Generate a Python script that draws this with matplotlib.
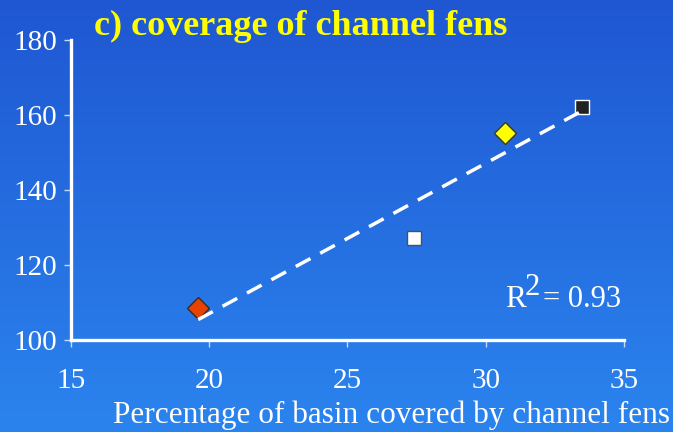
import numpy as np
import matplotlib
matplotlib.use('Agg')
import matplotlib.pyplot as plt
from matplotlib.colors import LinearSegmentedColormap

# datos
fen_cover = [19.6, 27.4, 30.7, 33.5]      # % de la cuenca cubierto por channel fens
y_vals = [108.5, 127.3, 155.3, 162.2]
markers = ['D', 's', 'D', 's']
face_cols = ['#e84100', '#ffffff', '#ffff00', '#222222']
edge_cols = ['#3a2a20', '#4a5060', '#3a3a20', '#ffffff']
r2_text = '0.93'
xticks = [15, 20, 25, 30, 35]
yticks = [100, 120, 140, 160, 180]

plt.rcParams['font.family'] = ['Liberation Serif', 'DejaVu Serif']
plt.rcParams['lines.scale_dashes'] = False

fig = plt.figure(figsize=(6.73, 4.32), dpi=100)

# fondo degradado azul
bg = fig.add_axes([0, 0, 1, 1], zorder=-10)
cmap = LinearSegmentedColormap.from_list('bg', ['#1f57d2', '#2b84ee'])
bg.imshow(np.linspace(0, 1, 256).reshape(-1, 1), aspect='auto', cmap=cmap,
          extent=[0, 1, 0, 1])
bg.axis('off')

ax = fig.add_axes([0.1055, 0.213, 0.8215, 0.694])
ax.patch.set_alpha(0)

for xv, yv, m, fc, ec in zip(fen_cover, y_vals, markers, face_cols, edge_cols):
    ms = 10.8 if m == 'D' else 10.2
    ax.plot(xv, yv, m, ms=ms, mfc=fc, mec=ec, mew=1.0, zorder=3)

# linea de tendencia
slope, icept = np.polyfit(fen_cover, y_vals, 1)
xx = np.array([min(fen_cover), max(fen_cover)])
ax.plot(xx, slope * xx + icept, color='white', lw=2.5, dashes=(12, 8), zorder=4)

ax.set_xlim(15, 35)
ax.set_ylim(100, 180)
ax.set_xticks(xticks)
ax.set_yticks(yticks)
for s in ['top', 'right']:
    ax.spines[s].set_visible(False)
for s in ['left', 'bottom']:
    ax.spines[s].set_color('white')
    ax.spines[s].set_linewidth(2.4)
ax.tick_params(axis='both', colors='#c8d8f8', labelcolor='white', width=1.0,
               length=5, labelsize=21)
ax.tick_params(axis='x', pad=15)
ax.tick_params(axis='y', pad=5)

ax.set_xlabel('Percentage of basin covered by channel fens', fontsize=22.5,
              color='white', ha='right', va='baseline')
ax.xaxis.set_label_coords(1.083, -0.277)

# R^2
ax.text(0.785, 0.11, 'R', transform=ax.transAxes, fontsize=22.5, color='white')
ax.text(0.82, 0.15, '2', transform=ax.transAxes, fontsize=22, color='white')
ax.text(0.853, 0.11, '= ' + r2_text, transform=ax.transAxes, fontsize=22,
        color='white')

fig.text(94 / 673, (432 - 35) / 432, 'c) coverage of channel fens',
         fontsize=26, fontweight='bold', color='#ffff00', va='baseline')

fig.savefig('out.png', dpi=100)
